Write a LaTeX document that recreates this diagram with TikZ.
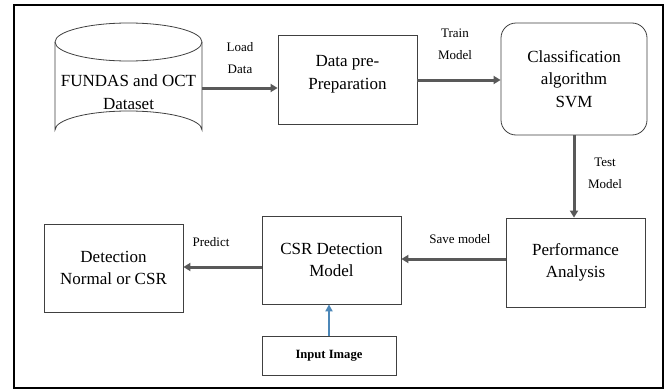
\documentclass[tikz,border=0pt]{standalone}
\usepackage{fontspec}
\setmainfont{Liberation Serif}
\usetikzlibrary{arrows.meta}
\begin{document}
\begin{tikzpicture}[x=1pt,y=-1pt,
  box/.style={draw=black!75,line width=0.8pt,minimum width=#1,inner sep=0pt},
  main/.style={font=\rmfamily\fontsize{17}{22.5}\selectfont,align=center},
  lbl/.style={font=\rmfamily\fontsize{13}{22}\selectfont,align=center},
  flow/.style={draw=black!65,line width=3pt,-{Triangle[length=7pt,width=8pt]}},
  inflow/.style={draw=blue!45!cyan!60!black!70,line width=2.4pt,-{Triangle[length=7pt,width=7pt]}}]
\useasboundingbox (0,0) rectangle (670,391);
\fill[white] (0,0) rectangle (670,391);
% outer frame
\draw[line width=2.5pt] (14,5) rectangle (663,388);

% dataset cylinder
\draw[black!75,line width=0.8pt] (128.5,42) ellipse [x radius=73.5, y radius=19];
\draw[black!75,line width=0.8pt] (55,42) -- (55,130) arc[start angle=180,end angle=360,x radius=73.5,y radius=19] -- (202,42);
\node[main,minimum width=147pt,minimum height=60pt] (db) at (128.5,92) {FUNDAS and OCT\\Dataset};

% process boxes
\node[box=139pt,minimum height=89pt,main] (prep) at (347.5,79.5) {Data pre-\\Preparation\\[-8pt]\mbox{}};
\node[box=146pt,minimum height=112pt,rounded corners=15pt,main] (svm) at (574,79)
  {Classification\\algorithm\\SVM};
\node[box=139pt,minimum height=89pt,main] (perf) at (575.5,262.5) {Performance\\Analysis};
\node[box=139pt,minimum height=88pt,main] (csr) at (331.5,260) {CSR Detection\\Model};
\node[box=139pt,minimum height=88pt,main] (det) at (113.5,268) {Detection\\Normal or CSR};
\node[box=134pt,minimum height=39pt,font=\rmfamily\bfseries\fontsize{12.6}{15}\selectfont] (img) at (329,355.5) {Input Image};

% connectors
\draw[flow] (db.east |- 0,88) -- (prep.west |- 0,88);
\draw[flow] (prep.east |- 0,80) -- (svm.west |- 0,80);
\draw[flow] (svm.south) -- (perf.north -| svm.south);
\draw[flow] (perf.west |- 0,259) -- (csr.east |- 0,259);
\draw[flow] (csr.west |- 0,267) -- (det.east |- 0,267);
\draw[inflow] (img.north) -- (csr.south -| img.north);

% connector labels
\node[lbl] (l1) at (240,58) {Load\\Data};
\node[lbl] (l2) at (455,44) {Train\\Model};
\node[lbl] (l3) at (605,173) {Test\\Model};
\node[lbl] (l4) at (460,239) {Save model};
\node[lbl] (l5) at (211,242) {Predict};
\end{tikzpicture}
\end{document}
